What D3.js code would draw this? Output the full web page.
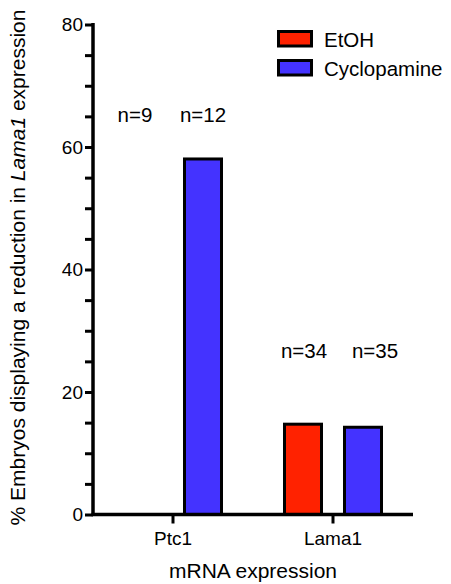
<!DOCTYPE html>
<html>
<head>
<meta charset="utf-8">
<script src="https://cdn.jsdelivr.net/npm/d3@7"></script>
<style>
  html, body { margin: 0; padding: 0; background: #fff; }
  text { font-family: "Liberation Sans", Arial, sans-serif; fill: #000; }
</style>
</head>
<body>
<div id="chart"></div>
<script>
// data
const genes = ["Ptc1", "Lama1"];
const series = ["EtOH", "Cyclopamine"];
const etohValues = [0, 14.5];
const cyclopamineValues = [57.8, 14.0];
const etohN = ["n=9", "n=34"];
const cyclopamineN = ["n=12", "n=35"];
const yTicks = [0, 20, 40, 60, 80];
const colors = ["#ff2200", "#4433ff"];

const width = 451, height = 584;
const m = { left: 93, right: 413, top: 24.5, bottom: 514.5 };

const svg = d3.select("#chart").append("svg")
    .attr("width", width)
    .attr("height", height);

const y = d3.scaleLinear().domain([0, 80]).range([m.bottom, m.top]);
const x = d3.scaleBand().domain(genes).range([m.left, m.right]).padding(0);
const xs = d3.scaleBand().domain(series).range([-50, 50]).paddingInner(1 / 3);

const rows = genes.map((g, i) => ({
    gene: g,
    vals: [
        { key: series[0], v: etohValues[i], n: etohN[i] },
        { key: series[1], v: cyclopamineValues[i], n: cyclopamineN[i] }
    ]
}));

// bars
const sw = 3;
const grp = svg.append("g").selectAll("g")
    .data(rows)
    .join("g")
    .attr("transform", d => `translate(${x(d.gene) + x.bandwidth() / 2},0)`);

grp.selectAll("rect")
    .data(d => d.vals.filter(v => v.v > 0))
    .join("rect")
    .attr("x", d => xs(d.key) + sw / 2)
    .attr("width", xs.bandwidth() - sw)
    .attr("y", d => y(d.v) - sw / 2)
    .attr("height", d => y(0) - y(d.v) + sw / 2)
    .attr("fill", d => colors[series.indexOf(d.key)])
    .attr("stroke", "#000")
    .attr("stroke-width", sw);

// n labels (annotation rows, in data units)
const nLevel = [64.1, 25.6];
const nShift = [[-8, 0], [1, 12]];
grp.each(function (d, gi) {
    d3.select(this).selectAll("text.n")
        .data(d.vals)
        .join("text")
        .attr("class", "n")
        .attr("x", (v, k) => xs(v.key) + xs.bandwidth() / 2 + nShift[gi][k])
        .attr("y", y(nLevel[gi]))
        .attr("text-anchor", "middle")
        .style("font-size", "20.5px")
        .text(v => v.n);
});

// y axis
const yAxis = svg.append("g")
    .attr("transform", `translate(${m.left},0)`)
    .call(d3.axisLeft(y)
        .tickValues(d3.range(0, 81, 5))
        .tickSize(8)
        .tickPadding(2)
        .tickFormat(d => yTicks.includes(d) ? d : ""));
yAxis.select(".domain").remove();
yAxis.selectAll(".tick line").attr("stroke", "#000").attr("stroke-width", 3);
yAxis.selectAll(".tick text").style("font-size", "19px").attr("dy", "0.34em");
svg.append("line")
    .attr("x1", m.left).attr("x2", m.left)
    .attr("y1", m.top - 1.5).attr("y2", m.bottom + 1.5)
    .attr("stroke", "#000").attr("stroke-width", 3.5);

// x axis
const xAxis = svg.append("g")
    .attr("transform", `translate(0,${m.bottom})`)
    .call(d3.axisBottom(x).tickSize(9).tickPadding(8));
xAxis.select(".domain").remove();
xAxis.selectAll(".tick line").attr("stroke", "#000").attr("stroke-width", 3);
xAxis.selectAll(".tick text").style("font-size", "19px");
svg.append("line")
    .attr("x1", m.left - 1.5).attr("x2", m.right)
    .attr("y1", m.bottom).attr("y2", m.bottom)
    .attr("stroke", "#000").attr("stroke-width", 3.5);

// axis titles
svg.append("text")
    .attr("x", 253).attr("y", 578)
    .attr("text-anchor", "middle")
    .style("font-size", "21px")
    .text("mRNA expression");

const yt = svg.append("text")
    .attr("transform", "translate(25,267.5) rotate(-90)")
    .attr("text-anchor", "middle")
    .style("font-size", "21px");
yt.append("tspan").text("% Embryos displaying a reduction in ");
yt.append("tspan").style("font-style", "italic").text("Lama1");
yt.append("tspan").text(" expression");

// legend
const lg = svg.append("g").selectAll("g")
    .data(series)
    .join("g")
    .attr("transform", (d, i) => `translate(278.5,${31.5 + i * 29})`);
lg.append("rect")
    .attr("width", 33).attr("height", 14.5)
    .attr("fill", (d, i) => colors[i])
    .attr("stroke", "#000").attr("stroke-width", 3);
lg.append("text")
    .attr("x", 45.5).attr("y", 15.5)
    .style("font-size", "20.5px")
    .text(d => d);
</script>
</body>
</html>
